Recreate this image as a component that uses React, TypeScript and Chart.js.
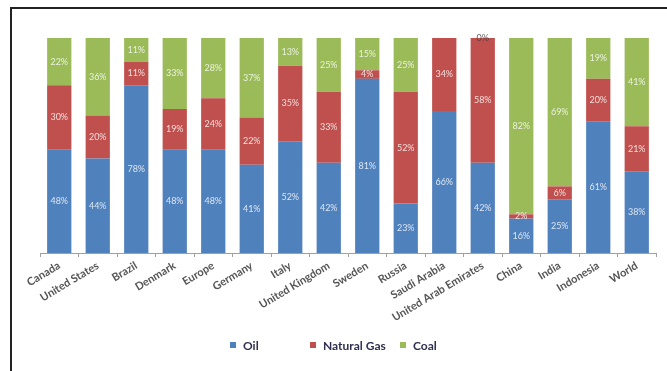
import { useEffect, useRef } from 'react';
import { Chart, registerables } from 'chart.js';

Chart.register(...registerables);

// Share of primary energy consumption by fuel (%)
const categories = [
  'Canada', 'United States', 'Brazil', 'Denmark', 'Europe', 'Germany', 'Italy',
  'United Kingdom', 'Sweden', 'Russia', 'Saudi Arabia', 'United Arab Emirates',
  'China', 'India', 'Indonesia', 'World',
];
const oil = [48, 44, 78, 48, 48, 41, 52, 42, 81, 23, 66, 42, 16, 25, 61, 38];
const naturalGas = [30, 20, 11, 19, 24, 22, 35, 33, 4, 52, 34, 58, 2, 6, 20, 21];
const coal = [22, 36, 11, 33, 28, 37, 13, 25, 15, 25, null, 0, 82, 69, 19, 41];

const seriesNames = ['Oil', 'Natural Gas', 'Coal'];
const seriesColors = ['#4F81BD', '#C0504D', '#9BBB59'];

// Horizontal placement of the legend entries
const legendLeft = [230, 310, 400];

// Writes each segment's percentage in the middle of the segment
const segmentLabels = {
  id: 'segmentLabels',
  afterDatasetsDraw(chart: any) {
    const ctx = chart.ctx;
    ctx.save();
    ctx.font = '9px Lato';
    ctx.textAlign = 'center';
    ctx.textBaseline = 'middle';
    chart.data.datasets.forEach((ds: any, di: number) => {
      const meta = chart.getDatasetMeta(di);
      meta.data.forEach((el: any, i: number) => {
        const v = ds.data[i];
        if (v === null || v === undefined) return;
        const { x, y, base } = el.getProps(['x', 'y', 'base'], true);
        ctx.fillStyle = v === 0 ? 'rgba(60,60,60,0.8)' : 'rgba(255,255,255,0.8)';
        ctx.fillText(v + '%', x, (y + base) / 2);
      });
    });
    ctx.restore();
  },
};

export default function App() {
  const canvasRef = useRef<HTMLCanvasElement | null>(null);

  useEffect(() => {
    if (!canvasRef.current) return;
    const chart = new Chart(canvasRef.current, {
      type: 'bar',
      data: {
        labels: categories,
        datasets: [oil, naturalGas, coal].map((values, k) => ({
          label: seriesNames[k],
          data: values,
          backgroundColor: seriesColors[k],
          borderWidth: 0,
          categoryPercentage: 1,
          barPercentage: 0.63,
        })),
      },
      options: {
        animation: false,
        responsive: true,
        maintainAspectRatio: false,
        layout: { padding: { left: 40, right: 11, top: 38, bottom: 40 } },
        plugins: {
          tooltip: { enabled: false },
          legend: { display: false },
        },
        scales: {
          x: {
            stacked: true,
            afterFit: (scale: any) => {
              scale.height = 78;
            },
            grid: {
              display: true,
              drawOnChartArea: false,
              drawTicks: true,
              tickLength: 4,
              color: '#a0a0a0',
              offset: true,
            },
            border: { display: true, color: '#a0a0a0' },
            ticks: {
              minRotation: 31,
              maxRotation: 31,
              autoSkip: false,
              padding: 2,
              color: '#555555',
              font: { family: 'Lato', size: 11, weight: 'bold' },
            },
          },
          y: {
            stacked: true,
            display: false,
            min: 0,
            max: 100,
          },
        },
      },
      plugins: [segmentLabels],
    });
    return () => chart.destroy();
  }, []);

  return (
    <div style={{ position: 'fixed', left: 0, top: 0, width: 667, height: 371, background: '#fff' }}>
      <canvas ref={canvasRef} />
      {seriesNames.map((name, k) => (
        <div
          key={name}
          style={{
            position: 'absolute',
            left: legendLeft[k],
            top: 338,
            height: 14,
            display: 'flex',
            alignItems: 'center',
            gap: 7,
            fontFamily: 'Lato',
            fontWeight: 'bold',
            fontSize: 12,
            color: '#2f2f4f',
            whiteSpace: 'nowrap',
          }}
        >
          <span style={{ display: 'inline-block', width: 6, height: 6, background: seriesColors[k] }} />
          <span>{name}</span>
        </div>
      ))}
      <div
        style={{
          position: 'absolute',
          left: 10,
          top: 7,
          right: 0,
          bottom: 0,
          borderTop: '2px solid #222',
          borderLeft: '2px solid #222',
          pointerEvents: 'none',
        }}
      />
    </div>
  );
}
